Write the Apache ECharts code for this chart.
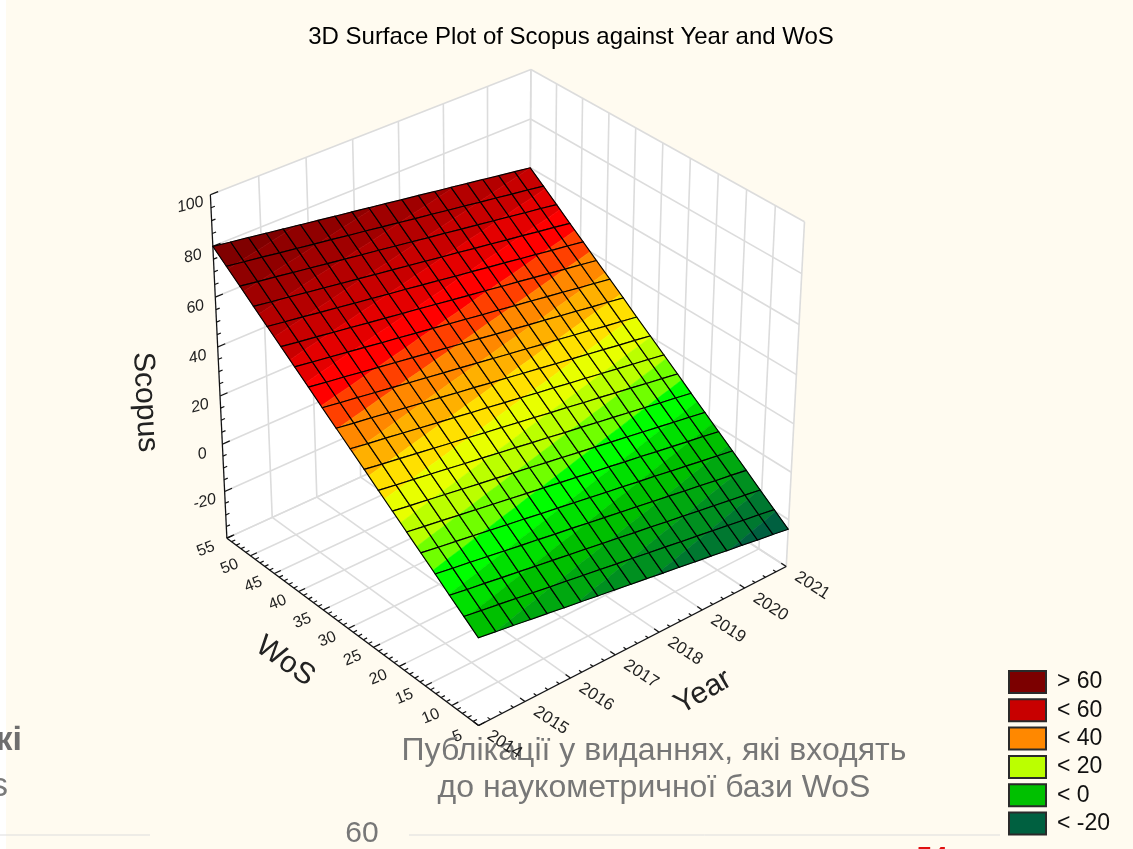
<!DOCTYPE html>
<html>
<head>
<meta charset="utf-8">
<style>html,body{margin:0;padding:0;background:#FFFBF0}#c{width:1133px;height:849px}</style>
<script src="https://cdn.jsdelivr.net/npm/echarts@6/dist/echarts.min.js"></script>
</head>
<body>
<div id="c"></div>
<script>
// ---------- DATA ----------
const yearTicks = [2014,2015,2016,2017,2018,2019,2020,2021];
const wosTicks = [55,50,45,40,35,30,25,20,15,10,5];
const scopusTicks = [-40,-20,0,20,40,60,80,100];
const scopusLabelled = [-20,0,20,40,60,80,100];
const gridYears = [2014,2014.37,2014.74,2015.11,2015.47,2015.84,2016.21,2016.58,2016.95,2017.32,2017.68,2018.05,2018.42,2018.79,2019.16,2019.53,2019.89,2020.26,2020.63,2021];
const gridWos = [55,52.37,49.74,47.11,44.47,41.84,39.21,36.58,33.95,31.32,28.68,26.05,23.42,20.79,18.16,15.53,12.89,10.26,7.63,5];
const scopusValues = [
[80,78.9,77.9,76.8,75.8,74.7,73.7,72.6,71.6,70.5,69.5,68.4,67.4,66.3,65.3,64.2,63.2,62.1,61.1,60],
[75.6,74.5,73.5,72.4,71.4,70.3,69.3,68.2,67.2,66.1,65.1,64,63,61.9,60.9,59.8,58.8,57.7,56.7,55.6],
[71.2,70.1,69.1,68,67,65.9,64.9,63.8,62.8,61.7,60.7,59.6,58.6,57.5,56.5,55.4,54.4,53.3,52.3,51.2],
[66.7,65.6,64.6,63.5,62.5,61.4,60.4,59.3,58.3,57.2,56.2,55.1,54.1,53,52,50.9,49.9,48.8,47.8,46.7],
[62.3,61.2,60.2,59.1,58.1,57,56,54.9,53.9,52.8,51.8,50.7,49.7,48.6,47.6,46.5,45.5,44.4,43.4,42.3],
[57.9,56.8,55.8,54.7,53.7,52.6,51.6,50.5,49.5,48.4,47.4,46.3,45.3,44.2,43.2,42.1,41.1,40,39,37.9],
[53.5,52.4,51.4,50.3,49.3,48.2,47.2,46.1,45.1,44,43,41.9,40.9,39.8,38.8,37.7,36.7,35.6,34.6,33.5],
[49.1,48,47,45.9,44.9,43.8,42.8,41.7,40.7,39.6,38.6,37.5,36.5,35.4,34.4,33.3,32.3,31.2,30.2,29.1],
[44.6,43.5,42.5,41.4,40.4,39.3,38.3,37.2,36.2,35.1,34.1,33,32,30.9,29.9,28.8,27.8,26.7,25.7,24.6],
[40.2,39.1,38.1,37,36,34.9,33.9,32.8,31.8,30.7,29.7,28.6,27.6,26.5,25.5,24.4,23.4,22.3,21.3,20.2],
[35.8,34.7,33.7,32.6,31.6,30.5,29.5,28.4,27.4,26.3,25.3,24.2,23.2,22.1,21.1,20,19,17.9,16.9,15.8],
[31.4,30.3,29.3,28.2,27.2,26.1,25.1,24,23,21.9,20.9,19.8,18.8,17.7,16.7,15.6,14.6,13.5,12.5,11.4],
[26.9,25.8,24.8,23.7,22.7,21.6,20.6,19.5,18.5,17.4,16.4,15.3,14.3,13.2,12.2,11.1,10.1,9,8,6.9],
[22.5,21.4,20.4,19.3,18.3,17.2,16.2,15.1,14.1,13,12,10.9,9.9,8.8,7.8,6.7,5.7,4.6,3.6,2.5],
[18.1,17,16,14.9,13.9,12.8,11.8,10.7,9.7,8.6,7.6,6.5,5.5,4.4,3.4,2.3,1.3,0.2,-0.8,-1.9],
[13.7,12.6,11.6,10.5,9.5,8.4,7.4,6.3,5.3,4.2,3.2,2.1,1.1,0,-1,-2.1,-3.1,-4.2,-5.2,-6.3],
[9.3,8.2,7.2,6.1,5.1,4,3,1.9,0.9,-0.2,-1.2,-2.3,-3.3,-4.4,-5.4,-6.5,-7.5,-8.6,-9.6,-10.7],
[4.8,3.7,2.7,1.6,0.6,-0.5,-1.5,-2.6,-3.6,-4.7,-5.7,-6.8,-7.8,-8.9,-9.9,-11,-12,-13.1,-14.1,-15.2],
[0.4,-0.7,-1.7,-2.8,-3.8,-4.9,-5.9,-7,-8,-9.1,-10.1,-11.2,-12.2,-13.3,-14.3,-15.4,-16.4,-17.5,-18.5,-19.6],
[-4,-5.1,-6.1,-7.2,-8.2,-9.3,-10.3,-11.4,-12.4,-13.5,-14.5,-15.6,-16.6,-17.7,-18.7,-19.8,-20.8,-21.9,-22.9,-24]
];
const legendNames = ['> 60','< 60','< 40','< 20','< 0','< -20'];
const legendColors = ['#7c0000','#c80000','#ff8800','#bbff00','#00c000','#006040'];
const bandFloors = [80,75,70,65,60,55,50,45,40,35,30,25,20,15,10,5,0,-5,-10,-15,-20,-25];
const bandColors = ['#7c0000','#800000','#900000','#a00000','#b40000','#c80000','#e40000','#ff0000','#ff4000','#ff8800','#ffb000','#ffe000','#e8ff00','#bbff00','#70ff00','#00ff00','#00e000','#00c000','#00a810','#009020','#007830','#006040'];

// ---------- VIEW (camera of the 3D box, fitted on where box landmarks sit on the page) ----------
const yMin=2014,yMax=2021,wMin=5,wMax=55,zMin=-40,zMax=100;
const landmarks=[
 [2014,55,-40,226.7,538.3],[2014,55,100,210.7,193.3],[2014,5,-40,478.3,726],
 [2021,5,-40,786.7,566],[2021,5,100,804.3,221.7],[2021,55,100,530.7,69.3],
 [2021,55,80,530.7,119.3],[2014,55,60,215.3,297],[2021,50,100,556.7,83.5],
 [2020,55,100,487.3,86.7],[2021,10,100,775.7,205.7],[2015,55,100,258.3,177],
 [2015,5,-40,521.7,701.7],[2014,10,-40,455,705]
];
const norm=(y,w,z)=>[(y-yMin)/(yMax-yMin),(wMax-w)/(wMax-wMin),(z-zMin)/(zMax-zMin)];
function fitCamera(){
  const n=11,A=Array.from({length:n},()=>new Array(n+1).fill(0));
  const add=(r,b)=>{for(let i=0;i<n;i++){for(let j=0;j<n;j++)A[i][j]+=r[i]*r[j];A[i][n]+=r[i]*b;}};
  landmarks.forEach(l=>{const [u,v,t]=norm(l[0],l[1],l[2]),px=l[3]/1000,py=l[4]/1000;
    add([u,v,t,1,0,0,0,0,-px*u,-px*v,-px*t],px);
    add([0,0,0,0,u,v,t,1,-py*u,-py*v,-py*t],py);});
  for(let c=0;c<n;c++){let p=c;for(let r=c+1;r<n;r++)if(Math.abs(A[r][c])>Math.abs(A[p][c]))p=r;
    [A[c],A[p]]=[A[p],A[c]];
    for(let r=0;r<n;r++){if(r===c)continue;const f=A[r][c]/A[c][c];for(let k=c;k<=n;k++)A[r][k]-=f*A[c][k];}}
  return A.map((row,i)=>row[n]/row[i]);
}
const H=fitCamera();
function project(y,w,z){const [u,v,t]=norm(y,w,z);const d=H[8]*u+H[9]*v+H[10]*t+1;
  return [1000*(H[0]*u+H[1]*v+H[2]*t+H[3])/d,1000*(H[4]*u+H[5]*v+H[6]*t+H[7])/d];}

// ---------- BUILD ----------
const GRID='#dcdcdc';
const walls=[
 [[yMin,wMax,zMin],[yMax,wMax,zMin],[yMax,wMax,zMax],[yMin,wMax,zMax]],
 [[yMax,wMax,zMin],[yMax,wMin,zMin],[yMax,wMin,zMax],[yMax,wMax,zMax]],
 [[yMin,wMax,zMin],[yMax,wMax,zMin],[yMax,wMin,zMin],[yMin,wMin,zMin]]
];
const gridSegs=[];
yearTicks.forEach(y=>{gridSegs.push([y,wMax,zMin,y,wMax,zMax]);gridSegs.push([y,wMax,zMin,y,wMin,zMin]);});
wosTicks.forEach(w=>{gridSegs.push([yMax,w,zMin,yMax,w,zMax]);gridSegs.push([yMin,w,zMin,yMax,w,zMin]);});
scopusTicks.forEach(z=>{gridSegs.push([yMin,wMax,z,yMax,wMax,z]);gridSegs.push([yMax,wMax,z,yMax,wMin,z]);});
const axisSegs=[[yMin,wMax,zMin,yMin,wMax,zMax],[yMin,wMax,zMin,yMin,wMin,zMin],[yMin,wMin,zMin,yMax,wMin,zMin]];
for(let i=0;i<yearTicks.length-1;i++)for(let k=0;k<4;k++){const y=yearTicks[i]+k/4;axisSegs.push([y,wMin,zMin,y,wMin+(k?0.5:0.9),zMin]);}
axisSegs.push([yMax,wMin,zMin,yMax,wMin+0.9,zMin]);
for(let i=0;i<wosTicks.length-1;i++)for(let k=0;k<5;k++){const w=wosTicks[i]-k;axisSegs.push([yMin,w,zMin,yMin+(k?0.08:0.14),w,zMin]);}
axisSegs.push([yMin,wMin,zMin,yMin+0.14,wMin,zMin]);
for(let i=0;i<scopusTicks.length-1;i++)for(let k=0;k<4;k++){const z=scopusTicks[i]+k*5;axisSegs.push([yMin,wMax,z,yMin+(k?0.08:0.16),wMax,z]);}
axisSegs.push([yMin,wMax,zMax,yMin+0.16,wMax,zMax]);

const labels=[];
yearTicks.forEach(y=>labels.push({p:[y,wMin,zMin],dx:26,dy:19,t:String(y),r:-33,s:17}));
wosTicks.forEach(w=>labels.push({p:[yMin,w,zMin],dx:-21,dy:11,t:String(w),r:22,s:16}));
scopusLabelled.forEach(z=>labels.push({p:[yMin,wMax,z],dx:-20,dy:10,t:String(z),r:14,s:16,i:true}));
labels.push({p:[yMin,wMax,zMin],dx:-82,dy:-136,t:'Scopus',r:-87,s:30});
labels.push({p:[yMin,30,zMin],dx:-63,dy:33,t:'WoS',r:-35,s:30});
labels.push({p:[2018,wMin,zMin],dx:44,dy:60,t:'Year',r:30,s:30});

function clipBand(poly,lo,hi){
  const cut=(pts,keep,level)=>{const out=[];for(let i=0;i<pts.length;i++){const a=pts[i],b=pts[(i+1)%pts.length];
    const ka=keep(a[2]),kb=keep(b[2]);if(ka)out.push(a);
    if(ka!==kb){const t=(level-a[2])/(b[2]-a[2]);out.push([a[0]+t*(b[0]-a[0]),a[1]+t*(b[1]-a[1]),level]);}}return out;};
  let r=cut(poly,z=>z>=lo,lo);if(r.length&&hi!==null)r=cut(r,z=>z<=hi,hi);return r;
}
const px=(api,p)=>api.coord(project(p[0],p[1],p[2]));
const cells=[];
for(let j=0;j<gridWos.length-1;j++)for(let i=0;i<gridYears.length-1;i++)cells.push([i,j]);

const lineEl=(api,s,stroke,w)=>{const a=px(api,[s[0],s[1],s[2]]),b=px(api,[s[3],s[4],s[5]]);
  return {type:'line',shape:{x1:a[0],y1:a[1],x2:b[0],y2:b[1]},style:{stroke:stroke,lineWidth:w}};};
const noData=[[0]];
const series=[
 {type:'custom',coordinateSystem:'cartesian2d',silent:true,data:noData,z:2,clip:false,
  renderItem:(p,api)=>({type:'group',children:walls.map(f=>({type:'polygon',shape:{points:f.map(c=>px(api,c))},style:{fill:'#ffffff'}}))
     .concat(gridSegs.map(s=>lineEl(api,s,GRID,1.6)))})},
 {type:'custom',coordinateSystem:'cartesian2d',silent:true,data:noData,z:3,clip:false,
  renderItem:(p,api)=>({type:'group',children:axisSegs.map(s=>lineEl(api,s,'#111',1.2))})},
 {type:'custom',coordinateSystem:'cartesian2d',silent:true,data:cells,z:4,clip:false,
  renderItem:(p,api)=>{
    const i=api.value(0),j=api.value(1);
    const q=[[i,j],[i+1,j],[i+1,j+1],[i,j+1]].map(c=>[gridYears[c[0]],gridWos[c[1]],scopusValues[c[1]][c[0]]]);
    const kids=[];
    bandFloors.forEach((lo,b)=>{const hi=b===0?null:bandFloors[b-1];const r=clipBand(q,lo,hi);
      if(r.length>2)kids.push({type:'polygon',shape:{points:r.map(v=>px(api,v))},style:{fill:bandColors[b],stroke:bandColors[b],lineWidth:0.6}});});
    kids.push({type:'polygon',shape:{points:q.map(v=>px(api,v))},style:{fill:'none',stroke:'#000',lineWidth:1.15}});
    return {type:'group',children:kids};
  }},
 {type:'custom',coordinateSystem:'cartesian2d',silent:true,data:labels.map((l,i)=>[i]),z:5,clip:false,
  renderItem:(p,api)=>{const l=labels[api.value(0)],c=px(api,l.p);
    return {type:'text',x:c[0]+l.dx,y:c[1]+l.dy,rotation:l.r*Math.PI/180,
      style:{text:l.t,fontFamily:'Liberation Sans',fontSize:l.s,fontStyle:l.i?'italic':'normal',fill:'#222',align:'center',verticalAlign:'middle'}};}}
];
legendNames.forEach((n,i)=>series.push({name:n,type:'scatter',data:[],itemStyle:{color:legendColors[i],opacity:1,borderColor:'#2a2a2a',borderWidth:1.5}}));

const fadeText=(t,x,y,size,color,weight,align)=>({type:'text',x:x,y:y,silent:true,
  style:{text:t,fontFamily:'Liberation Sans',fontSize:size,fontWeight:weight||'normal',fill:color,align:align||'center',verticalAlign:'middle'}});
const rule=(x1,x2)=>({type:'line',silent:true,shape:{x1:x1,y1:835,x2:x2,y2:835},style:{stroke:'#dddddd',lineWidth:1}});

const chart=echarts.init(document.getElementById('c'),null,{renderer:'canvas'});
chart.setOption({
  animation:false,
  backgroundColor:'#FFFBF0',
  title:{text:'3D Surface Plot of Scopus against Year and WoS',left:566,top:20,textAlign:'center',
    textStyle:{fontFamily:'Liberation Sans',fontSize:24,fontWeight:'normal',color:'#000'}},
  grid:{left:0,right:0,top:0,bottom:0},
  xAxis:{type:'value',min:0,max:1133,show:false},
  yAxis:{type:'value',min:0,max:849,inverse:true,show:false},
  legend:{show:true,orient:'vertical',left:1003,top:665,height:190,itemWidth:37,itemHeight:22,itemGap:4.3,icon:'rect',selectedMode:false,
    data:legendNames,textStyle:{fontFamily:'Liberation Sans',fontSize:23,color:'#111',lineHeight:22,padding:[0,0,0,6]}},
  graphic:{elements:[
    {type:'rect',silent:true,shape:{x:0,y:0,width:6,height:849},style:{fill:'#ffffff'}},
    rule(0,150),rule(409,1000),
    fadeText('кі',22,741,34,'#6e6e6e','bold','right'),
    fadeText('s',8,787,34,'#7a7a7a','normal','right'),
    fadeText('60',362,834,30,'#777777'),
    fadeText('54',932,858,28,'#e01010','bold'),
    fadeText('Публікації у виданнях, які входять',654,751,32,'#777777'),
    fadeText('до наукометричної бази WoS',654,788,32,'#777777')
  ]},
  series:series
});
</script>
</body>
</html>
